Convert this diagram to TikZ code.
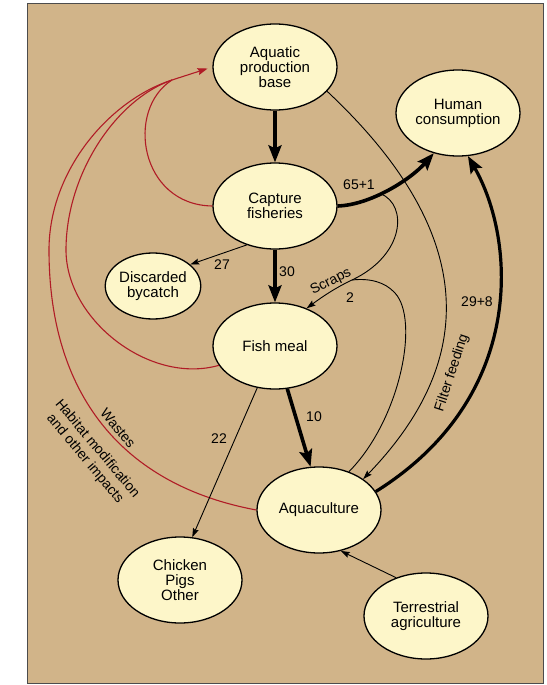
\documentclass[tikz,border=0pt]{standalone}
\usepackage{fontspec}
\setmainfont{Liberation Sans}
\usepackage{tikz}
\usetikzlibrary{positioning,shapes,arrows.meta,calc}
\definecolor{sand}{RGB}{209,180,137}
\definecolor{cream}{RGB}{253,246,201}
\definecolor{wastered}{RGB}{176,28,38}

\begin{document}
\begin{tikzpicture}[x=1pt,y=-1pt,
    pool/.style={ellipse,draw=black,line width=1.3pt,fill=cream,align=center,
        inner sep=0pt,minimum width=124pt,minimum height=86pt,
        font=\fontsize{15}{15}\selectfont},
    flow/.style={-{Stealth[length=9pt,width=6pt,inset=1.5pt]},line width=0.9pt},
    bigflow/.style={-{Stealth[length=17pt,width=13pt,inset=3pt]},line width=3.6pt},
    waste/.style={wastered,line width=1.1pt},
    lbl/.style={font=\fontsize{14}{16}\selectfont,inner sep=0pt}]
\useasboundingbox (0,0) rectangle (546,685);
\draw[fill=sand,draw=black!70,line width=1pt] (27,4) rectangle (543,683);

% pools
\node[pool] (aq) at (275,67) {Aquatic\\production\\base};
\node[pool] (hum) at (458,113) {Human\\consumption};
\node[pool] (cap) at (275,206) {Capture\\fisheries};
\node[pool,minimum width=93pt,minimum height=66pt] (byc) at (153,286) {Discarded\\bycatch};
\node[pool] (fm) at (275,346) {Fish meal};
\node[pool] (aqc) at (319,510) {Aquaculture};
\node[pool] (chk) at (180,580) {Chicken\\Pigs\\Other};
\node[pool] (ter) at (426,616) {Terrestrial\\agriculture};

% wastes back to the production base
\coordinate (join) at (172,80);
\draw[waste] (cap.west) .. controls (140,205) and (125,110) .. (join);
\draw[waste] (fm.199) .. controls (150,385) and (66,320) .. (66,250)
    .. controls (66,175) and (115,100) .. (join);
\draw[waste] (aqc.west) .. controls (122,485) and (49,394) .. (49,250)
    .. controls (49,170) and (110,100) .. (join);
\draw[waste,-{Stealth[length=10pt,width=7pt,inset=1.5pt]},shorten >=5pt] (join) -- (aq.west);
\node[lbl,rotate=-50] (wst) at (118,428) {Wastes};
\node[lbl,rotate=-50,align=center] (hab) at (91,454) {Habitat modification\\and other impacts};

% main flows
\draw[bigflow] (aq.south) -- (cap.north);
\draw[bigflow] (cap.east) .. controls (370,205) and (410,180) .. coordinate[pos=0.42] (scrap) (hum.239);
\node[lbl] (l651) at (359,185) {65+1};
\draw[flow] (cap.234) -- (byc.30);
\node[lbl] (l27) at (222,265) {27};
\draw[bigflow] (cap.south) -- (fm.north);
\node[lbl] (l30) at (287,272) {30};

% scraps
\coordinate (sjoin) at (352,280);
\draw[flow] (scrap) .. controls (408,205) and (405,255) .. (sjoin)
    .. controls (335,288) and (322,297) .. (fm.50);
\draw[line width=0.9pt] (aqc.52) .. controls (400,420) and (420,320) .. (395,293)
    .. controls (385,282) and (370,278) .. (sjoin);
\node[lbl,rotate=27] (lscr) at (331,282) {Scraps};
\node[lbl] (l2) at (350,298) {2};

% filter feeding
\draw[flow] (aq.-25) .. controls (473,228) and (483,355) .. (aqc.35);
\node[lbl,rotate=72] (lff) at (452,373) {Filter feeding};

% aquaculture to people
\draw[bigflow,line width=3.2pt] (aqc.18) .. controls (527,397) and (516,240) .. (hum.-77);
\node[lbl] (l298) at (477,302) {29+8};

% fish meal uses
\draw[bigflow] (fm.-74) -- (aqc.101);
\node[lbl] (l10) at (314,417) {10};
\draw[flow] (fm.-113) -- (chk.74);
\node[lbl] (l22) at (219,439) {22};
\draw[flow] (ter.128) -- (aqc.-62);
\end{tikzpicture}
\end{document}
